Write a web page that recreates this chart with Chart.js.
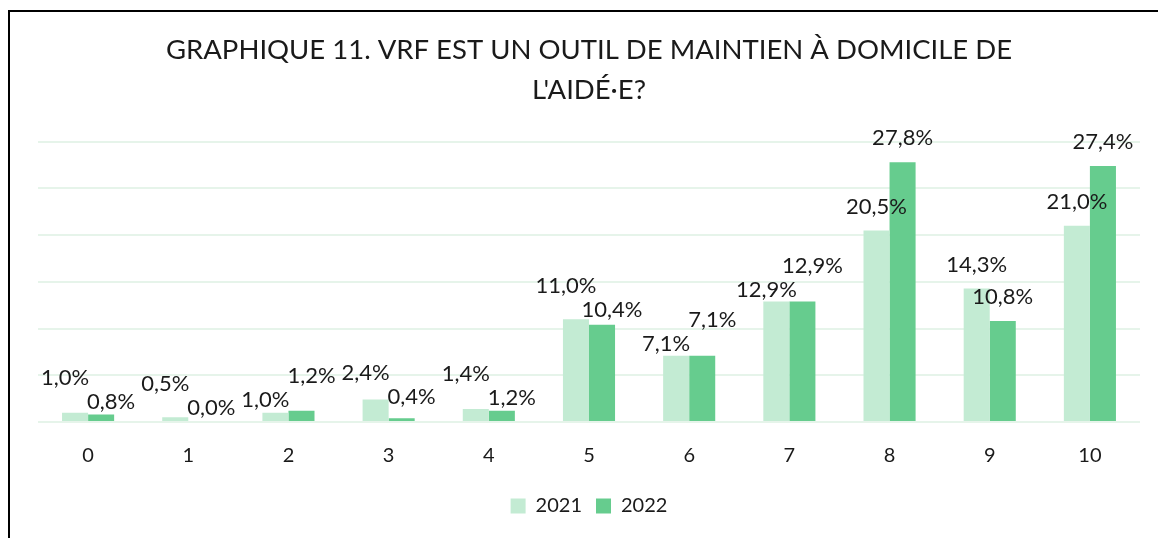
<!DOCTYPE html>
<html>
<head>
<meta charset="utf-8">
<script src="https://cdn.jsdelivr.net/npm/chart.js@4"></script>
<style>
  body { margin: 0; background: #fff; }
  #frame { position: absolute; left: 8px; top: 10px; width: 1300px; height: 700px;
           border-left: 2px solid #000; border-top: 2px solid #000; }
  #wrap { position: absolute; left: 0; top: 0; width: 1158px; height: 538px; }
</style>
</head>
<body>
<div id="frame"></div>
<div id="wrap"><canvas id="chartVrf"></canvas></div>
<script>
// données
var categories = ['0', '1', '2', '3', '4', '5', '6', '7', '8', '9', '10'];
var serie2021 = [1.0, 0.5, 1.0, 2.4, 1.4, 11.0, 7.1, 12.9, 20.5, 14.3, 21.0];
var serie2022 = [0.8, 0.0, 1.2, 0.4, 1.2, 10.4, 7.1, 12.9, 27.8, 10.8, 27.4];
var titreLignes = ['GRAPHIQUE 11. VRF EST UN OUTIL DE MAINTIEN À DOMICILE DE', "L'AIDÉ·E?"];

var police = 'Lato, "Liberation Sans", sans-serif';

function fmt(v) {
    return v.toFixed(1).replace('.', ',') + '%';
}

// étiquettes de données, un peu décalées quand elles se chevauchent (comme Excel)
var etiquettes = {
    id: 'etiquettes',
    afterDatasetsDraw: function(chart) {
        let ctx = chart.ctx;
        let m0 = chart.getDatasetMeta(0);
        let m1 = chart.getDatasetMeta(1);
        ctx.save();
        ctx.font = '22px ' + police;
        ctx.fillStyle = '#1a1a1a';
        ctx.textAlign = 'center';
        ctx.textBaseline = 'middle';
        for (let i = 0; i < categories.length; i++) {
            let b0 = m0.data[i], b1 = m1.data[i];
            let y0 = b0.y - 24, y1 = b1.y - 24;
            let x0 = b0.x, x1 = b1.x;
            if (Math.abs(y0 - y1) < 24) {
                let mid = (y0 + y1) / 2;
                if (serie2021[i] > serie2022[i]) {
                    y0 = mid - 12; y1 = mid + 12;
                } else {
                    y1 = mid - 12; y0 = mid + 12;
                }
                x0 -= 10; x1 += 10;
            }
            ctx.fillText(fmt(serie2021[i]), x0, y0);
            ctx.fillText(fmt(serie2022[i]), x1, y1);
        }
        ctx.restore();
    }
};

var mainCanvas = document.getElementById('chartVrf');

var chart = new Chart(mainCanvas, {
    type: 'bar',
    data: {
        labels: categories,
        datasets: [{
            label: '2021',
            data: serie2021,
            backgroundColor: '#C3EBD3',
            borderWidth: 0,
            categoryPercentage: 0.52,
            barPercentage: 1.0
        }, {
            label: '2022',
            data: serie2022,
            backgroundColor: '#66CC8E',
            borderWidth: 0,
            categoryPercentage: 0.52,
            barPercentage: 1.0
        }]
    },
    options: {
        responsive: true,
        maintainAspectRatio: false,
        animation: false,
        layout: { padding: { left: 38, right: 18, top: 0, bottom: 12 } },
        scales: {
            x: {
                grid: { display: false },
                border: { display: false },
                ticks: { color: '#1a1a1a', font: { family: police, size: 20 }, padding: 14 }
            },
            y: {
                min: 0,
                max: 30,
                ticks: { display: false, stepSize: 5 },
                border: { display: false },
                grid: { color: '#E6F4EA', lineWidth: 2, drawTicks: false }
            }
        },
        plugins: {
            title: {
                display: true,
                text: titreLignes,
                color: '#1a1a1a',
                font: { family: police, size: 27.5, weight: 'normal', lineHeight: 1.45 },
                padding: { top: 30, bottom: 32 }
            },
            legend: {
                position: 'bottom',
                labels: {
                    color: '#1a1a1a',
                    font: { family: police, size: 20 },
                    boxWidth: 15,
                    boxHeight: 15,
                    padding: 14
                }
            },
            tooltip: { enabled: false }
        }
    },
    plugins: [etiquettes]
});
</script>
</body>
</html>
